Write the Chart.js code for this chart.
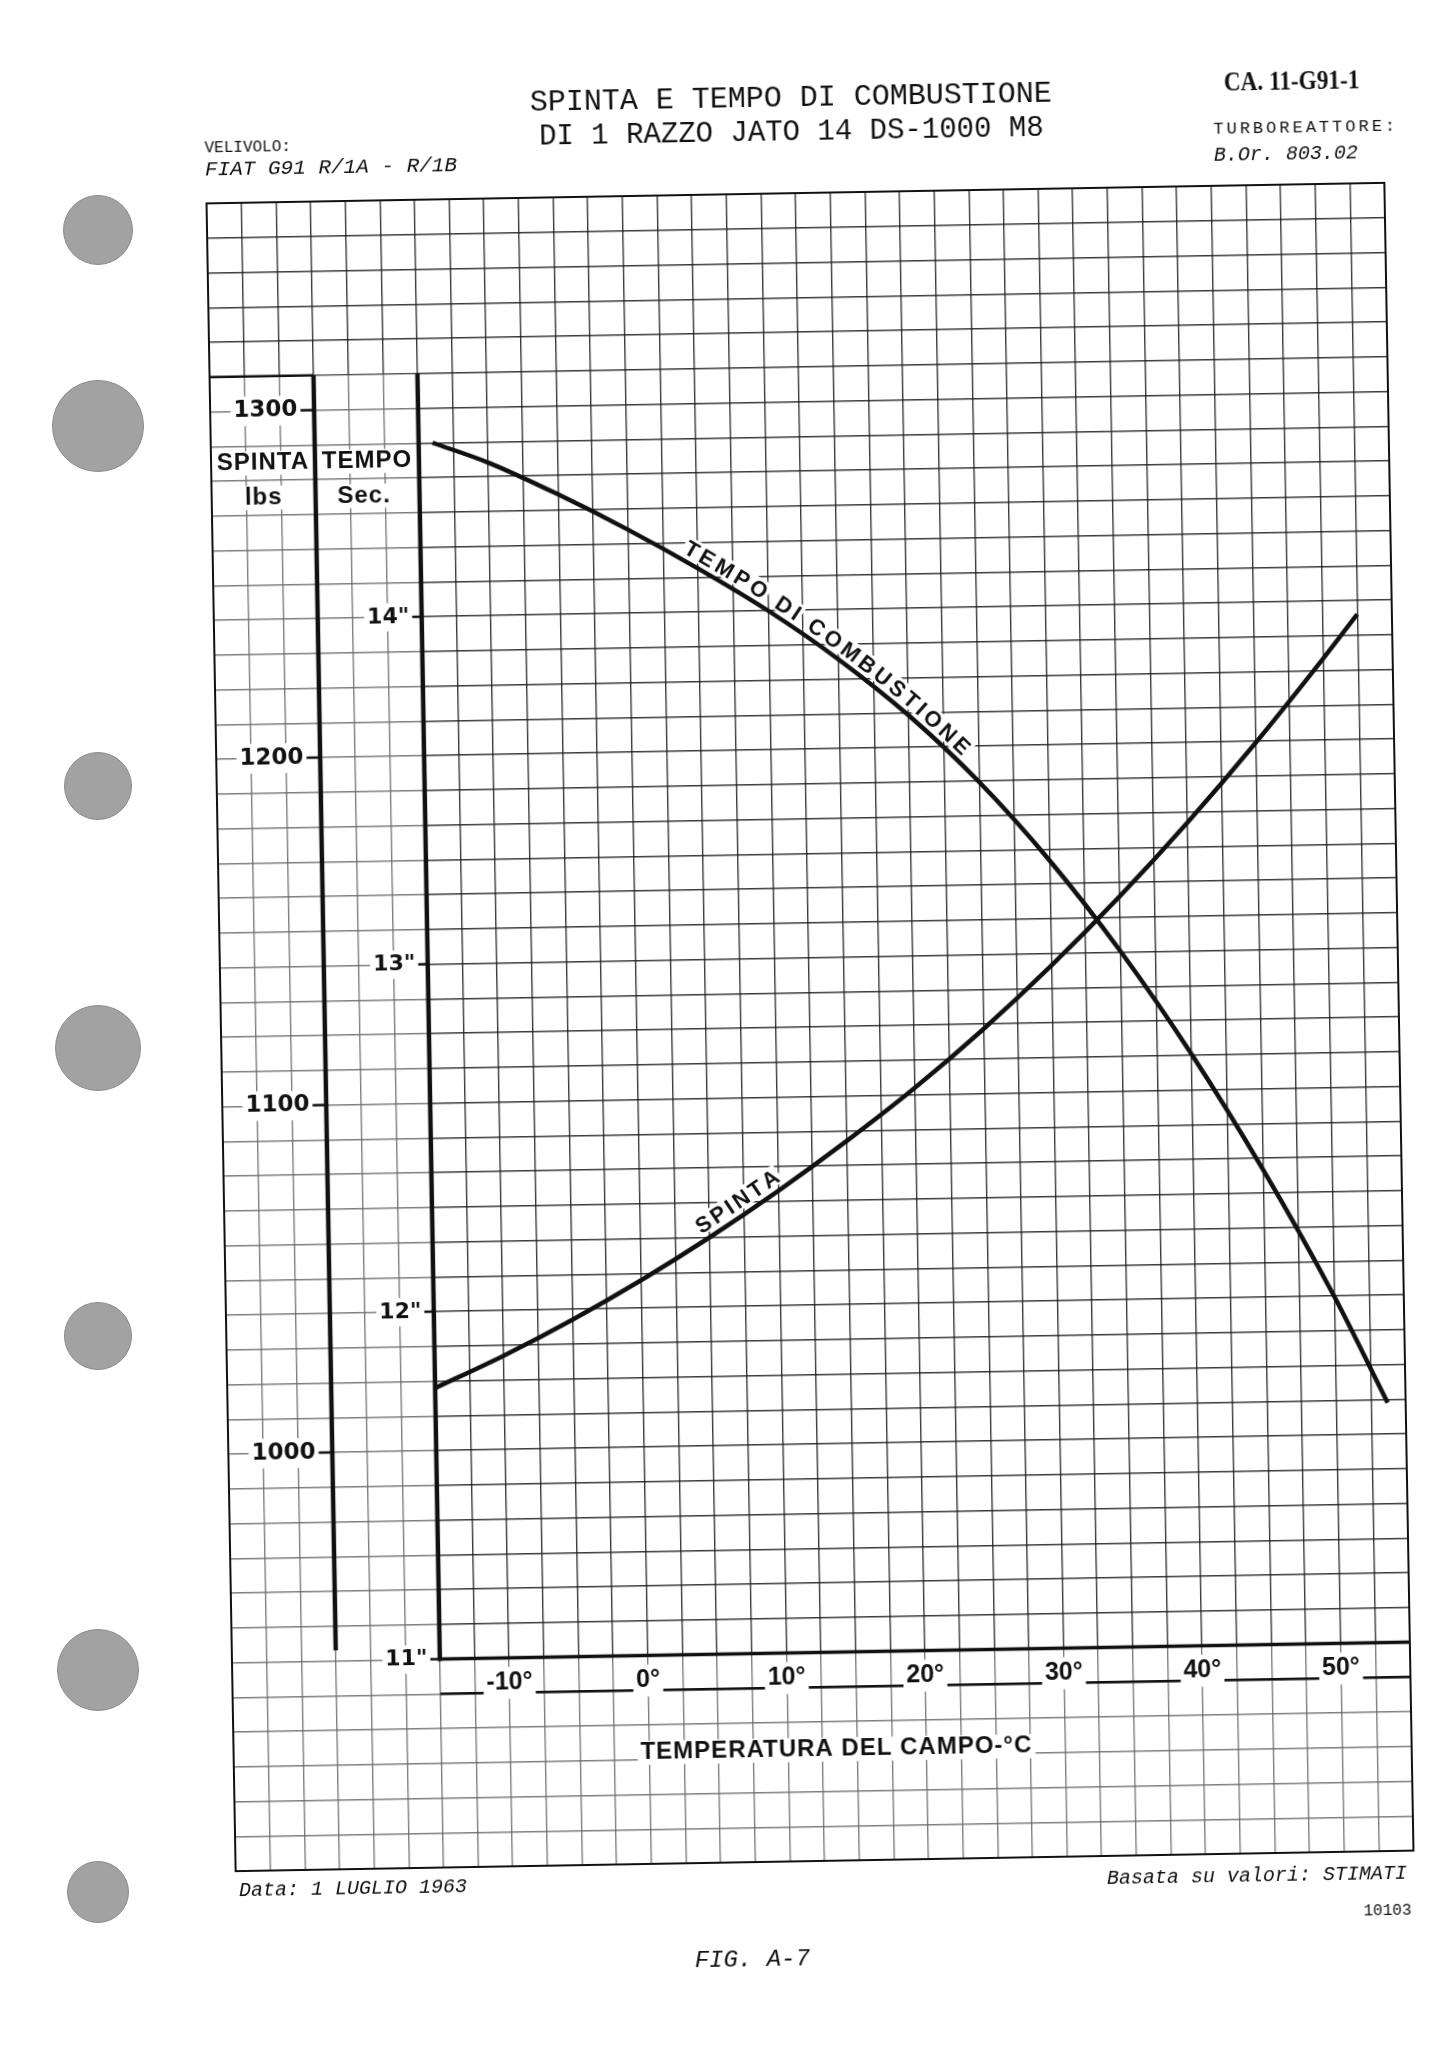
<!DOCTYPE html>
<html>
<head>
<meta charset="utf-8">
<title>Spinta e tempo di combustione - JATO 14 DS-1000 M8</title>
<script src="https://cdn.jsdelivr.net/npm/chart.js@4"></script>
<style>
  html, body { margin: 0; padding: 0; background: #fff; }
  body { width: 1450px; height: 2052px; position: relative; overflow: hidden; }
  /* the scanned sheet sits about one degree askew */
  #sheet { position: absolute; left: 0; top: 0; width: 1450px; height: 2052px;
           transform: rotate(-1deg); transform-origin: 810px 1027px; }
  #chart { position: absolute; left: 0; top: 0; }
  .t { position: absolute; color: #111; white-space: nowrap; line-height: 1;
       font-family: 'Liberation Mono', monospace; }
  .c { transform: translate(-50%, -50%); }
  .l { transform: translateY(-50%); }
  .i { font-style: italic; }
  .hole { position: absolute; border-radius: 50%; background: #a2a2a2; border: 1px solid #8c8c8c; }
</style>
</head>
<body>
<div class="hole" style="left:63px;top:195px;width:68px;height:68px"></div>
<div class="hole" style="left:52px;top:380px;width:90px;height:90px"></div>
<div class="hole" style="left:64px;top:752px;width:66px;height:66px"></div>
<div class="hole" style="left:55px;top:1005px;width:84px;height:84px"></div>
<div class="hole" style="left:64px;top:1302px;width:66px;height:66px"></div>
<div class="hole" style="left:57px;top:1629px;width:80px;height:80px"></div>
<div class="hole" style="left:67px;top:1861px;width:60px;height:60px"></div>

<div id="sheet">
  <canvas id="chart" width="1450" height="2052"></canvas>

  <div class="t" style="left:1308px;top:89px;transform:translate(-50%,-50%) scaleX(0.83);font:bold 28px 'Liberation Serif', serif">CA. 11-G91-1</div>
  <div class="t c" style="left:807px;top:98px;font-size:30px">SPINTA E TEMPO DI COMBUSTIONE</div>
  <div class="t c" style="left:807px;top:132px;font-size:29px">DI 1 RAZZO JATO 14 DS-1000 M8</div>

  <div class="t l" style="left:220px;top:138px;font-size:16px">VELIVOLO:</div>
  <div class="t l i" style="left:220px;top:159px;font-size:21px">FIAT G91 R/1A - R/1B</div>

  <div class="t l" style="left:1229px;top:136px;font-size:17px;letter-spacing:3px">TURBOREATTORE:</div>
  <div class="t l i" style="left:1229px;top:163px;font-size:20px">B.Or. 803.02</div>

  <div class="t l i" style="left:224px;top:1881px;font-size:20px">Data: 1 LUGLIO 1963</div>
  <div class="t l i" style="right:58px;top:1884px;font-size:20px">Basata su valori: STIMATI</div>
  <div class="t l" style="right:54px;top:1921px;font-size:16px">10103</div>
  <div class="t c i" style="left:736px;top:1959px;font-size:24px">FIG. A-7</div>
</div>

<script>
// squared paper limits
const X_MIN = -30, X_MAX = 55;             // temperatura, °C
const SPINTA_MIN = 880, SPINTA_MAX = 1360; // spinta, lbs
const TEMPO_MIN = 10.4, TEMPO_MAX = 15.2;  // tempo, s

// curva SPINTA (lbs)
const spintaTemp = [-15, -10, -5, 0, 5, 10, 15, 20, 25, 30, 35, 40, 45, 50, 52.5];
const spintaLbs = [1018, 1027, 1037, 1048, 1060, 1073, 1087, 1102, 1118.5, 1136.5, 1156, 1177, 1199.5, 1223.5, 1236];

// curva TEMPO DI COMBUSTIONE (s)
const tempoTemp = [-14, -10, -5, 0, 5, 10, 15, 20, 25, 30, 35, 40, 45, 50, 53.7];
const tempoSec = [14.50, 14.44, 14.345, 14.24, 14.125, 14.0, 13.857, 13.692, 13.497, 13.267, 13.002, 12.702, 12.367, 11.997, 11.69];

// tick labels
const tempTicks = [-10, 0, 10, 20, 30, 40, 50];
const spintaTicks = [1000, 1100, 1200, 1300];
const tempoTicks = [11, 12, 13, 14];

// where the inked axes sit on the paper (data units)
const AX_SPINTA = -22.5, AX_TEMPO = -15, AX_TOP = 14.7, AX_BASE = 11, LAB_LINE = 10.9;
const SP_LAB_X = -23.7, TE_LAB_X = -15.9;

const INK = '#111';
const GRID = 'rgba(25,25,25,0.85)';

function boxedText(ctx, txt, x, y, size, spacing) {
  ctx.font = 'bold ' + size + "px 'Liberation Sans'";
  ctx.letterSpacing = (spacing || 0) + 'px';
  ctx.textAlign = 'center';
  ctx.textBaseline = 'middle';
  const w = ctx.measureText(txt).width;
  ctx.fillStyle = '#fff';
  ctx.fillRect(x - w / 2 - 3, y - size * 0.5, w + 6, size);
  ctx.fillStyle = INK;
  ctx.fillText(txt, x, y);
  ctx.letterSpacing = '0px';
}

// writes txt along the drawn bezier of a line dataset, between two x pixels
function textOnCurve(ctx, meta, txt, fromX, toX, lift, size) {
  const pts = meta.data;
  const poly = [];
  for (let i = 0; i < pts.length - 1; i++) {
    const p = pts[i], q = pts[i + 1];
    const c1x = p.cp2x ?? p.x, c1y = p.cp2y ?? p.y, c2x = q.cp1x ?? q.x, c2y = q.cp1y ?? q.y;
    for (let k = 0; k < 30; k++) {
      const t = k / 30, u = 1 - t;
      poly.push([u * u * u * p.x + 3 * u * u * t * c1x + 3 * u * t * t * c2x + t * t * t * q.x,
                 u * u * u * p.y + 3 * u * u * t * c1y + 3 * u * t * t * c2y + t * t * t * q.y]);
    }
  }
  const last = pts[pts.length - 1];
  poly.push([last.x, last.y]);
  const len = [0];
  for (let i = 1; i < poly.length; i++) {
    len.push(len[i - 1] + Math.hypot(poly[i][0] - poly[i - 1][0], poly[i][1] - poly[i - 1][1]));
  }
  const sAtX = px => {
    for (let i = 0; i < poly.length; i++) if (poly[i][0] >= px) return len[i];
    return len[len.length - 1];
  };
  const at = s => {
    let i = 1;
    while (i < len.length - 1 && len[i] < s) i++;
    const a = poly[i - 1], b = poly[i];
    const f = (s - len[i - 1]) / ((len[i] - len[i - 1]) || 1);
    return {x: a[0] + (b[0] - a[0]) * f, y: a[1] + (b[1] - a[1]) * f, a: Math.atan2(b[1] - a[1], b[0] - a[0])};
  };

  ctx.font = 'bold ' + size + "px 'Liberation Sans'";
  ctx.textAlign = 'center';
  ctx.textBaseline = 'alphabetic';
  const chars = [...txt];
  const ws = chars.map(c => ctx.measureText(c).width);
  const total = ws.reduce((a, b) => a + b, 0);
  const s0 = sAtX(fromX), s1 = sAtX(toX);
  const gap = (s1 - s0 - total) / (chars.length - 1);
  let s = s0;
  chars.forEach((c, i) => {
    const m = at(s + ws[i] / 2);
    if (c !== ' ') {
      ctx.save();
      ctx.translate(m.x, m.y);
      ctx.rotate(m.a);
      ctx.fillStyle = '#fff';
      ctx.fillRect(-ws[i] / 2 - gap / 2 - 0.5, -lift - size * 0.82, ws[i] + gap + 1, size * 0.82 + 2);
      ctx.fillStyle = INK;
      ctx.fillText(c, 0, -lift);
      ctx.restore();
    }
    s += ws[i] + gap;
  });
}

const sheetPlugin = {
  id: 'sheet',
  beforeDatasetsDraw(chart) {
    const {ctx, chartArea: a, scales: sc} = chart;
    const X = v => sc.x.getPixelForValue(v);
    const T = v => sc.tempo.getPixelForValue(v);
    const S = v => sc.spinta.getPixelForValue(v);
    const line = (x1, y1, x2, y2, w) => {
      ctx.lineWidth = w;
      ctx.beginPath();
      ctx.moveTo(x1, y1);
      ctx.lineTo(x2, y2);
      ctx.stroke();
    };
    ctx.save();

    // the margins of the sheet came out paler
    ctx.fillStyle = 'rgba(255,255,255,0.35)';
    ctx.fillRect(a.left, T(AX_TOP), X(AX_TEMPO) - a.left, a.bottom - T(AX_TOP));
    ctx.fillRect(X(AX_TEMPO), T(AX_BASE), a.right - X(AX_TEMPO), a.bottom - T(AX_BASE));

    ctx.strokeStyle = INK;
    ctx.lineCap = 'butt';
    ctx.lineWidth = 2;
    ctx.strokeRect(a.left, a.top, a.right - a.left, a.bottom - a.top);

    line(X(AX_SPINTA), T(AX_TOP), X(AX_SPINTA), T(11.03), 4.5);
    line(X(AX_TEMPO), T(AX_TOP), X(AX_TEMPO), T(AX_BASE) + 2, 4.5);
    line(X(AX_TEMPO) - 2, T(AX_BASE), a.right, T(AX_BASE), 3.5);
    line(X(AX_TEMPO), T(LAB_LINE), a.right, T(LAB_LINE), 2.5);
    line(a.left, T(AX_TOP), X(AX_SPINTA), T(AX_TOP), 2.5);
    spintaTicks.forEach(v => line(X(SP_LAB_X + 0.1), S(v), X(AX_SPINTA), S(v), 2.5));
    tempoTicks.forEach(v => line(X(TE_LAB_X + 0.1), T(v), X(AX_TEMPO), T(v), 2.5));

    boxedText(ctx, 'SPINTA', X(-26.25), T(14.45), 24, 1);
    boxedText(ctx, 'lbs', X(-26.25), T(14.35), 24, 1);
    boxedText(ctx, 'TEMPO', X(-18.75), T(14.45), 24, 1);
    boxedText(ctx, 'Sec.', X(-19), T(14.35), 24, 1);
    boxedText(ctx, 'TEMPERATURA DEL CAMPO-°C', X(13.5), T(10.72), 24, 1);

    chart.getSortedVisibleDatasetMetas().forEach(meta => {
      meta.dataset.updateControlPoints(chart.chartArea, 'x');
    });
    textOnCurve(ctx, chart.getDatasetMeta(0), 'TEMPO DI COMBUSTIONE', X(3.5), X(23.5), 6, 22);
    textOnCurve(ctx, chart.getDatasetMeta(1), 'SPINTA', X(4.6), X(10.4), 7, 22);
    ctx.restore();
  }
};

const labelTicks = values => scale => { scale.ticks = values.map(v => ({value: v})); };
const noGrid = {display: false, drawTicks: false, drawOnChartArea: false};
const backdrop = {showLabelBackdrop: true, backdropColor: '#fff', backdropPadding: {x: 3, y: 1}};

new Chart(document.getElementById('chart'), {
  type: 'line',
  data: {
    datasets: [
      {
        label: 'TEMPO DI COMBUSTIONE',
        data: tempoTemp.map((t, i) => ({x: t, y: tempoSec[i]})),
        yAxisID: 'tempo',
        borderColor: INK,
        borderWidth: 4.5,
        pointRadius: 0,
        tension: 0.4,
        cubicInterpolationMode: 'monotone'
      },
      {
        label: 'SPINTA',
        data: spintaTemp.map((t, i) => ({x: t, y: spintaLbs[i]})),
        yAxisID: 'spinta',
        borderColor: INK,
        borderWidth: 4.5,
        pointRadius: 0,
        tension: 0.4,
        cubicInterpolationMode: 'monotone'
      }
    ]
  },
  options: {
    responsive: false,
    animation: false,
    devicePixelRatio: 1,
    layout: {padding: {left: 221, top: 193, right: 51, bottom: 191}},
    plugins: {legend: {display: false}, tooltip: {enabled: false}},
    scales: {
      x: {
        type: 'linear', min: X_MIN, max: X_MAX, position: 'bottom',
        ticks: {display: false, stepSize: 2.5},
        grid: {color: GRID, lineWidth: 1.4, drawTicks: false},
        border: {display: false}
      },
      spinta: {
        type: 'linear', axis: 'y', min: SPINTA_MIN, max: SPINTA_MAX, position: 'left',
        ticks: {display: false, stepSize: 10},
        grid: {color: GRID, lineWidth: 1.4, drawTicks: false},
        border: {display: false}
      },
      tempo: {
        type: 'linear', axis: 'y', min: TEMPO_MIN, max: TEMPO_MAX, position: 'left', display: false
      },
      xLab: {
        type: 'linear', axis: 'x', min: X_MIN, max: X_MAX, position: {tempo: AX_BASE},
        afterBuildTicks: labelTicks(tempTicks),
        ticks: {padding: 10, z: 1, color: INK, autoSkip: false, maxRotation: 0,
                font: {family: "'Liberation Sans'", size: 25, weight: 'bold'},
                callback: v => v + '°', ...backdrop},
        grid: noGrid, border: {display: false}
      },
      spintaLab: {
        type: 'linear', axis: 'y', min: SPINTA_MIN, max: SPINTA_MAX, position: {x: SP_LAB_X},
        afterBuildTicks: labelTicks(spintaTicks),
        ticks: {padding: 0, z: 1, color: INK, autoSkip: false,
                font: {family: "'DejaVu Sans'", size: 23, weight: 'bold'},
                callback: v => String(v), ...backdrop},
        grid: noGrid, border: {display: false}
      },
      tempoLab: {
        type: 'linear', axis: 'y', min: TEMPO_MIN, max: TEMPO_MAX, position: {x: TE_LAB_X},
        afterBuildTicks: labelTicks(tempoTicks),
        ticks: {padding: 0, z: 1, color: INK, autoSkip: false,
                font: {family: "'DejaVu Sans'", size: 22, weight: 'bold'},
                callback: v => v + '"', ...backdrop},
        grid: noGrid, border: {display: false}
      }
    }
  },
  plugins: [sheetPlugin]
});
</script>
</body>
</html>
